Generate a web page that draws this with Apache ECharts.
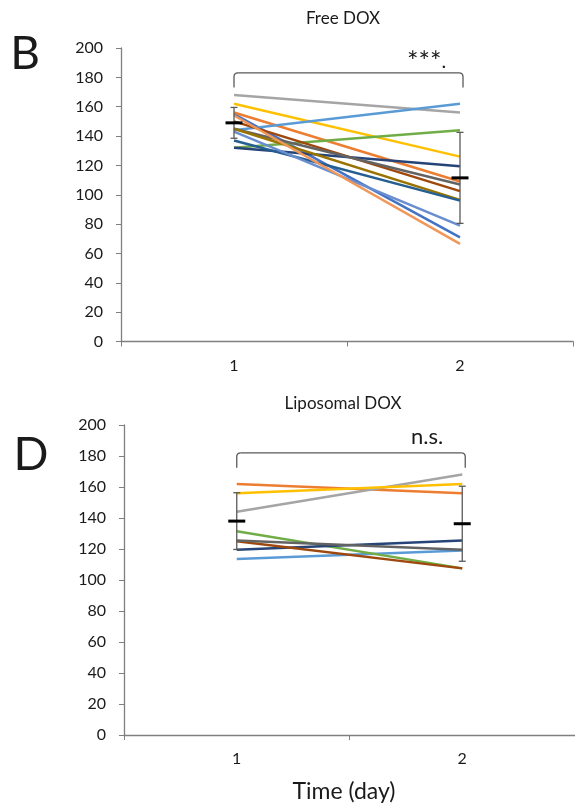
<!DOCTYPE html>
<html>
<head>
<meta charset="utf-8">
<script src="https://cdn.jsdelivr.net/npm/echarts@6/dist/echarts.min.js"></script>
<style>
html,body{margin:0;padding:0;background:#fff;}
#chart{width:575px;height:810px;}
</style>
</head>
<body>
<div id="chart"></div>
<script>
// ---------- data ----------
const categories = ['1', '2'];
const yTicks = [0, 20, 40, 60, 80, 100, 120, 140, 160, 180, 200];

// Free DOX: each row = [day 1, day 2]
const freeDoxValues = [
  [155, 71],
  [156, 109],
  [168, 156],
  [162, 126],
  [144, 162],
  [132, 144],
  [132, 119.5],
  [150, 102.5],
  [145, 107],
  [145, 96.5],
  [137, 96],
  [143, 79],
  [154, 66.5]
];
const freeDoxMean = [149, 111.5];
const freeDoxSD = [10.5, 31];
const freeDoxBracket = [183, 173];

// Liposomal DOX
const lipoDoxValues = [
  [162, 156],
  [144, 168],
  [156, 162],
  [113.5, 119],
  [131.5, 107.5],
  [119.5, 125.5],
  [125, 107.5],
  [125.5, 119.5]
];
const lipoDoxMean = [138, 136.3];
const lipoDoxSD = [18.3, 24.2];
const lipoDoxBracket = [182, 172.5];

// ---------- styles ----------
const freeColors = ['#4472C4','#ED7D31','#A5A5A5','#FFC000','#5B9BD5','#70AD47','#264478','#9E480E','#636363','#997300','#255E91','#698ED0','#F1975A'];
const lipoColors = ['#ED7D31','#A5A5A5','#FFC000','#5B9BD5','#70AD47','#264478','#9E480E','#636363'];
const FONT = 'Lato, "Open Sans", sans-serif';
const AXIS_COLOR = '#7F7F7F';
const LABEL_COLOR = '#1a1a1a';

function makeXAxis(gi) {
  return {
    type: 'category', gridIndex: gi, data: categories, boundaryGap: true,
    axisLine: {lineStyle: {color: AXIS_COLOR, width: 1.3}},
    axisTick: {show: true, length: 5, lineStyle: {color: AXIS_COLOR}},
    axisLabel: {color: LABEL_COLOR, fontFamily: FONT, fontSize: 16, margin: 16},
    splitLine: {show: false}
  };
}
function makeYAxis(gi) {
  return {
    type: 'value', gridIndex: gi, min: yTicks[0], max: yTicks[yTicks.length - 1], interval: yTicks[1] - yTicks[0],
    axisLine: {show: true, lineStyle: {color: AXIS_COLOR, width: 1.3}},
    axisTick: {show: true, length: 5, lineStyle: {color: AXIS_COLOR}},
    axisLabel: {color: LABEL_COLOR, fontFamily: FONT, fontSize: 16, margin: 18},
    splitLine: {show: false}
  };
}

function lineSeries(values, colors, gi) {
  return values.map((row, i) => ({
    type: 'line', xAxisIndex: gi, yAxisIndex: gi,
    data: row, showSymbol: false, symbol: 'none',
    lineStyle: {color: colors[i], width: 2.5},
    itemStyle: {color: colors[i]},
    silent: true, animation: false, z: 2
  }));
}

function errorSeries(mean, sd, gi) {
  return {
    type: 'custom', xAxisIndex: gi, yAxisIndex: gi, animation: false, silent: true, z: 5,
    data: mean.map((m, i) => [i, m, sd[i]]),
    encode: {x: 0, y: 1},
    renderItem: function (params, api) {
      const x = api.value(0), m = api.value(1), s = api.value(2);
      const top = api.coord([x, m + s]);
      const bot = api.coord([x, m - s]);
      const mid = api.coord([x, m]);
      const st = {stroke: '#595959', lineWidth: 1.3};
      return {
        type: 'group',
        children: [
          {type: 'line', shape: {x1: top[0], y1: top[1], x2: bot[0], y2: bot[1]}, style: st},
          {type: 'line', shape: {x1: top[0] - 3.5, y1: top[1], x2: top[0] + 3.5, y2: top[1]}, style: st},
          {type: 'line', shape: {x1: bot[0] - 3.5, y1: bot[1], x2: bot[0] + 3.5, y2: bot[1]}, style: st},
          {type: 'line', shape: {x1: mid[0] - 8.5, y1: mid[1], x2: mid[0] + 8.5, y2: mid[1]}, style: {stroke: '#000', lineWidth: 3}}
        ]
      };
    }
  };
}

function bracketSeries(br, gi) {
  return {
    type: 'custom', xAxisIndex: gi, yAxisIndex: gi, animation: false, silent: true, z: 4,
    data: [[0, 1, br[0], br[1]]],
    encode: {x: [0, 1], y: [2, 3]},
    renderItem: function (params, api) {
      const a = api.coord([api.value(0), api.value(2)]);
      const b = api.coord([api.value(1), api.value(2)]);
      const yb = api.coord([api.value(0), api.value(3)])[1];
      const x1 = a[0], x2 = b[0] + 3, yt = a[1], r = 4;
      const st = {stroke: '#595959', lineWidth: 1.3, fill: null};
      return {
        type: 'group',
        children: [
          {type: 'line', shape: {x1: x1, y1: yb, x2: x1, y2: yt + r}, style: st},
          {type: 'bezierCurve', shape: {x1: x1, y1: yt + r, cpx1: x1, cpy1: yt, x2: x1 + r, y2: yt}, style: st},
          {type: 'line', shape: {x1: x1 + r, y1: yt, x2: x2 - r, y2: yt}, style: st},
          {type: 'bezierCurve', shape: {x1: x2 - r, y1: yt, cpx1: x2, cpy1: yt, x2: x2, y2: yt + r}, style: st},
          {type: 'line', shape: {x1: x2, y1: yt + r, x2: x2, y2: yb}, style: st}
        ]
      };
    }
  };
}

const textStyle = (t, size, align) => ({text: t, font: size + 'px ' + FONT, fill: LABEL_COLOR, align: align || 'center', verticalAlign: 'middle'});

const chart = echarts.init(document.getElementById('chart'), null, {renderer: 'canvas'});
chart.setOption({
  animation: false,
  backgroundColor: '#fff',
  grid: [
    {left: 121, top: 48, width: 452, height: 293.5},
    {left: 124, top: 425, width: 451, height: 310}
  ],
  xAxis: [makeXAxis(0), makeXAxis(1)],
  yAxis: [makeYAxis(0), makeYAxis(1)],
  series: [].concat(
    lineSeries(freeDoxValues, freeColors, 0),
    lineSeries(lipoDoxValues, lipoColors, 1),
    [errorSeries(freeDoxMean, freeDoxSD, 0), errorSeries(lipoDoxMean, lipoDoxSD, 1),
     bracketSeries(freeDoxBracket, 0), bracketSeries(lipoDoxBracket, 1)]
  ),
  graphic: [
    {type: 'text', x: 343, y: 19, style: textStyle('Free DOX', 17)},
    {type: 'text', x: 343, y: 404, style: textStyle('Liposomal DOX', 17)},
    {type: 'text', x: 25, y: 54, style: textStyle('B', 46)},
    {type: 'text', x: 31, y: 455, style: textStyle('D', 46)},
    {type: 'text', x: 344, y: 792, style: textStyle('Time (day)', 23)},
    {type: 'text', x: 407, y: 62, style: {
      text: '{s|***}{d|.}', align: 'left', verticalAlign: 'middle',
      rich: {
        s: {font: '27px ' + FONT, fill: LABEL_COLOR, verticalAlign: 'top', padding: [0, 0, 0, 0]},
        d: {font: '20px ' + FONT, fill: LABEL_COLOR}
      }
    }},
    {type: 'text', x: 411, y: 437, style: textStyle('n.s.', 22, 'left')}
  ]
});
</script>
</body>
</html>
